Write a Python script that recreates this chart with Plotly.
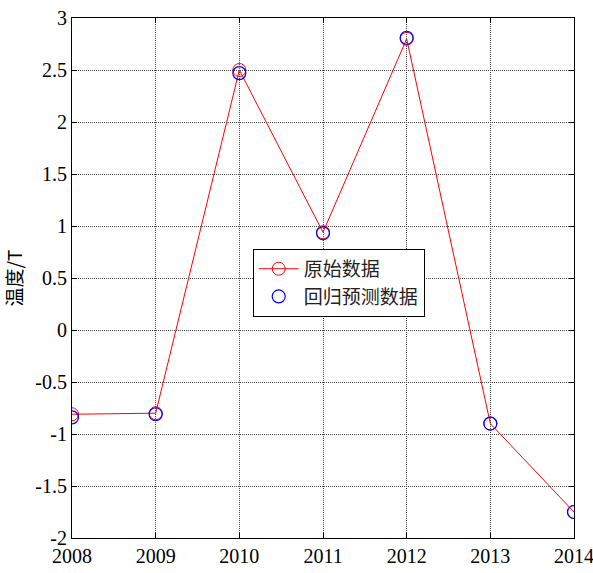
import plotly.graph_objects as go

years = [2008, 2009, 2010, 2011, 2012, 2013, 2014]
original = [-0.81, -0.80, 2.50, 0.94, 2.80, -0.90, -1.75]
predicted = [-0.84, -0.81, 2.47, 0.93, 2.81, -0.90, -1.75]

y_ticks = [-2, -1.5, -1, -0.5, 0, 0.5, 1, 1.5, 2, 2.5, 3]
y_ticklabels = ["-2", "-1.5", "-1", "-0.5", "0", "0.5", "1", "1.5", "2", "2.5", "3"]

serif = "Liberation Serif"

fig = go.Figure()
fig.add_trace(go.Scatter(
    x=years, y=original, mode="lines+markers", name="原始数据",
    line=dict(color="#ff0000", width=1),
    marker=dict(symbol="circle-open", size=13, color="#ff0000", line=dict(width=1)),
))
fig.add_trace(go.Scatter(
    x=years, y=predicted, mode="markers", name="回归预测数据",
    marker=dict(symbol="circle-open", size=13, color="#0000ff", line=dict(width=1.2)),
))

axis_common = dict(
    showline=True, linecolor="black", linewidth=1, mirror="ticks",
    ticks="inside", ticklen=5, tickcolor="black",
    showgrid=True, gridcolor="#444444", griddash="1px,1px", gridwidth=1,
    zeroline=False, automargin=False,
    ticklabeloverflow="allow",
)

fig.update_layout(
    width=593, height=573,
    margin=dict(l=72, r=19, t=18, b=35),
    paper_bgcolor="white", plot_bgcolor="white",
    font=dict(family=serif, size=20, color="black"),
    showlegend=True,
    legend=dict(
        x=0.36, y=0.556, xanchor="left", yanchor="top",
        bgcolor="white", bordercolor="black", borderwidth=1,
        font=dict(family="Noto Sans CJK SC", size=19, color="#222222"),
        tracegroupgap=0, itemwidth=40,
    ),
    xaxis=dict(range=[2008, 2014], tickmode="array", tickvals=years,
               ticktext=[str(y) for y in years],
               tickfont=dict(family=serif, size=20, color="black"),
               **axis_common),
    yaxis=dict(range=[-2, 3], tickmode="array", tickvals=y_ticks, ticktext=y_ticklabels,
               tickfont=dict(family=serif, size=20, color="black"),
               title=dict(text="温度/T", font=dict(family="Noto Sans CJK SC", size=19, color="black"), standoff=8),
               **axis_common),
)

fig.write_html("out.html")
